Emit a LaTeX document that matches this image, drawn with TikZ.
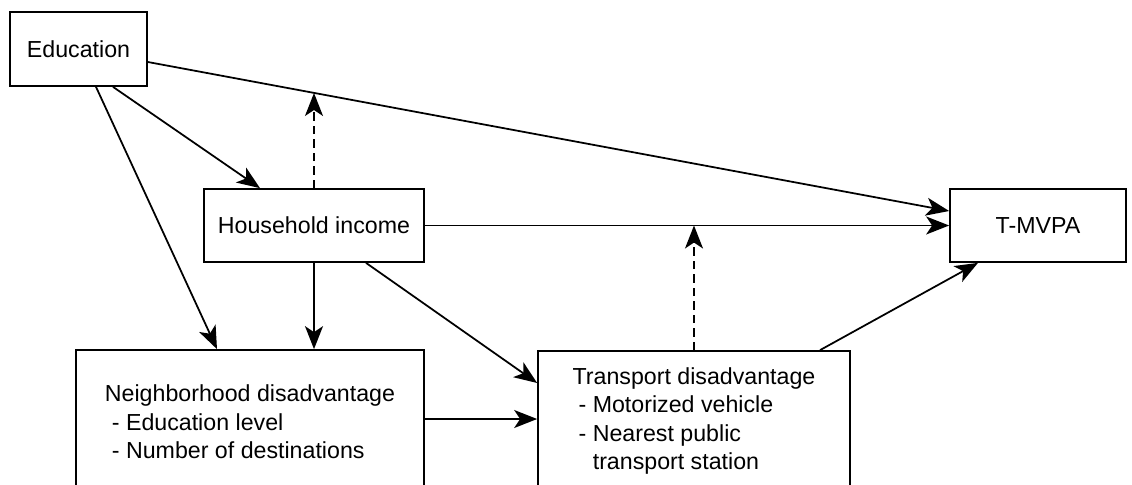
\documentclass[tikz,border=0pt]{standalone}
\usepackage{fontspec}
\setmainfont{Liberation Sans}
\usetikzlibrary{positioning, arrows.meta, calc}

\begin{document}
\begin{tikzpicture}[
			x=0.02cm,
			y=-0.02cm,
			font=\fontsize{13.2}{16.2}\selectfont,
			box/.style={
				draw=black,
				rectangle,
				line width=1pt,
				align=left,
				inner sep=0pt,
				fill=white
			},
			link/.style={
				draw=black,
				line width=1pt,
				-{Stealth[length=0.46cm, width=0.36cm, inset=0.12cm]}
			},
			mediate/.style={
				link,
				dash pattern=on 0.17cm off 0.1cm
			}
			]
			\useasboundingbox (0,0) rectangle (1132,484);
			
			% Boxes
			\node[box, minimum width=2.74cm, minimum height=1.48cm] (edu) at (78.5,49) {Education};
			\node[box, minimum width=4.4cm, minimum height=1.46cm] (hh) at (314,225.5) {Household income};
			\node[box, minimum width=3.52cm, minimum height=1.46cm] (tm) at (1038,225.5) {T-MVPA};
			\node[box, minimum width=6.96cm, minimum height=2.88cm] (nb) at (250,422) {Neighborhood disadvantage\\
				\hspace*{0.3em}- Education level\\
				\hspace*{0.3em}- Number of destinations};
			\node[box, minimum width=6.24cm, minimum height=2.8cm] (tr) at (694,421) {Transport disadvantage\\
				\hspace*{0.26em}- Motorized vehicle\\
				\hspace*{0.26em}- Nearest public\\
				\hspace*{0.26em}\hphantom{- }transport station};
			
			% Meeting points of the dashed arrows
			\coordinate (m1) at (hh.north |- 0,93);
			\coordinate (m2) at (tr.north |- hh.east);
			
			% Arrows
			\draw[link] ($(edu.south)+(34.5,0)$) -- ($(hh.north)+(-54,0)$);
			\draw[link] ($(edu.south)+(17.5,0)$) -- ($(nb.north)+(-33,0)$);
			\draw[link] ($(edu.east)+(0,13)$) -- ($(tm.west)+(0,-14.5)$);
			\draw[link] (hh.east) -- (tm.west);
			\draw[link] (hh.south) -- (hh.south |- nb.north);
			\draw[link] ($(hh.south)+(52,0)$) -- ($(tr.west)+(0,-38)$);
			\draw[link] ($(nb.east)+(0,-3)$) -- ($(tr.west)+(0,-2)$);
			\draw[link] ($(tr.north)+(126,0)$) -- ($(tm.south)+(-60,0)$);
			\draw[mediate] (hh.north) -- (m1);
			\draw[mediate] (tr.north) -- (m2);
		\end{tikzpicture}
\end{document}
